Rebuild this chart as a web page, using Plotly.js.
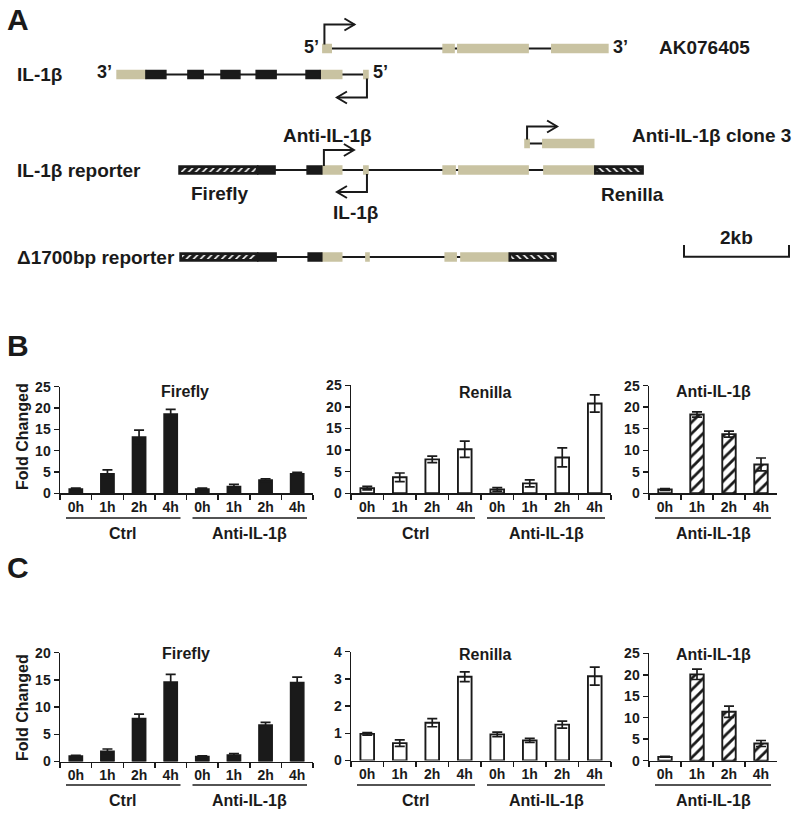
<!DOCTYPE html>
<html><head><meta charset="utf-8">
<script src="https://cdn.plot.ly/plotly-3.0.1.min.js"></script>
<style>body{margin:0;padding:0;background:#fff}#chart{width:795px;height:814px}</style>
</head><body><div id="chart"></div>
<script>
// ================= DATA =================
const timeLabels = ['0h', '1h', '2h', '4h'];
const groupsTwo = ['Ctrl', 'Anti-IL-1β'];
const groupsOne = ['Anti-IL-1β'];
const panelTitles = ['Firefly', 'Renilla', 'Anti-IL-1β'];

// Panel B
const bFireflyMean = [1.0, 4.6, 13.2, 18.6, 1.0, 1.6, 3.1, 4.6];
const bFireflyErr  = [0.2, 0.9, 1.6, 1.1, 0.2, 0.5, 0.3, 0.3];
const bRenillaMean = [1.2, 3.7, 7.85, 10.2, 0.9, 2.3, 8.3, 20.8];
const bRenillaErr  = [0.4, 1.0, 0.75, 1.9, 0.4, 0.8, 2.2, 2.0];
const bAntiMean    = [0.9, 18.3, 13.75, 6.7];
const bAntiErr     = [0.2, 0.6, 0.7, 1.5];

// Panel C
const cFireflyMean = [1.0, 1.9, 7.9, 14.6, 0.9, 1.2, 6.7, 14.5];
const cFireflyErr  = [0.15, 0.4, 0.8, 1.4, 0.15, 0.25, 0.5, 1.0];
const cRenillaMean = [0.98, 0.64, 1.39, 3.08, 0.96, 0.74, 1.32, 3.1];
const cRenillaErr  = [0.05, 0.12, 0.15, 0.18, 0.08, 0.07, 0.13, 0.33];
const cAntiMean    = [0.9, 20.1, 11.4, 4.0];
const cAntiErr     = [0.1, 1.2, 1.3, 0.7];

// Panel A gene diagrams (positions in kb, [start, end])
const akSpan   = [2.74, 8.17];
const akTan    = [[2.74, 2.90], [5.03, 5.24], [5.31, 6.65], [7.10, 8.17]];
const ilSpan   = [-1.18, 3.56];
const ilTan    = [[-1.18, -0.63], [2.69, 3.10], [3.52, 3.60]];
const ilBlack  = [[-0.63, -0.25], [0.17, 0.46], [0.80, 1.16], [1.47, 1.85], [2.42, 2.69]];
const c3Span   = [6.59, 6.93];
const c3Tan    = [[6.59, 6.67], [6.93, 7.90]];
const repSpan  = [0.00, 8.84];
const repFirefly = [[0.00, 1.50]];
const repBlack = [[1.50, 1.83], [2.44, 2.72]];
const repTan   = [[2.72, 3.10], [3.52, 3.60], [5.03, 5.26], [5.33, 6.65], [6.95, 7.92]];
const repRenilla = [[7.92, 8.84]];
const delSpan  = [0.02, 7.18];
const delFirefly = [[0.02, 1.50]];
const delBlack = [[1.50, 1.85], [2.46, 2.72]];
const delTan   = [[2.72, 3.10], [3.56, 3.62], [5.07, 5.28], [5.37, 6.29]];
const delRenilla = [[6.29, 7.18]];
// promoters: position (kb), row, direction (+1 right, -1 left)
const tssPos = [2.77, 3.58, 2.76, 3.58, 6.63];
const tssRow = ['ak', 'il', 'rep', 'rep', 'c3'];
const tssDir = [1, -1, 1, -1, 1];
const scaleKb = 2;

// ================= STYLE / LAYOUT =================
const W = 795, H = 814;
const FONT = 'Liberation Sans, Arial, sans-serif';
const INK = '#1a1a1a', TAN = '#c9c3a2';
const px = x => x / W, py = y => 1 - y / H;
const rowY = {ak: 48.5, il: 74.5, c3: 143.5, rep: 170, del: 257};
const stemPx = [24, 23, 20, 22, 17];
const kbPerPx = 1 / 52.5, kbOrigin = 179;
const exonH = 8;

const traces = [];
const annotations = [];
const shapes = [];
const layout = {
  width: W, height: H, margin: {l: 0, r: 0, t: 0, b: 0},
  paper_bgcolor: 'white', plot_bgcolor: 'rgba(0,0,0,0)',
  showlegend: false, barmode: 'overlay',
  font: {family: FONT, color: INK, weight: 'bold'}
};

function ann(text, x, y, size, extra) {
  annotations.push(Object.assign({text: text, x: px(x), y: py(y), xref: 'paper', yref: 'paper',
    showarrow: false, xanchor: 'center', yanchor: 'middle',
    font: {family: FONT, size: size, color: INK, weight: 'bold'}}, extra || {}));
}

// ---------- bar panels ----------
function barPanel(n, mean, err, groups, kind, left, right, top, bottom, yMax, dtick, title, titleX, titleY, groupY, yTitleY) {
  const cats = [];
  groups.forEach((g, gi) => timeLabels.forEach(t => cats.push(t + '\u200b'.repeat(gi))));
  let marker;
  if (kind === 'solid') marker = {color: INK, line: {color: INK, width: 1.5}};
  else if (kind === 'open') marker = {color: 'white', line: {color: INK, width: 1.9}};
  else marker = {color: 'white', line: {color: INK, width: 1.9},
    pattern: {shape: mean.map((v, i) => i === 0 ? '' : '/'), fgcolor: INK, bgcolor: 'white', size: 8, solidity: 0.35}};
  traces.push({type: 'bar', x: cats, y: mean, width: 0.42, xaxis: 'x' + n, yaxis: 'y' + n, marker: marker,
    error_y: {type: 'data', array: err, visible: true, color: INK, thickness: 1.7, width: 5}});
  layout['xaxis' + n] = {domain: [px(left), px(right)], anchor: 'y' + n, type: 'category', range: [-0.5, cats.length - 0.5],
    tickson: 'boundaries', ticks: 'outside', ticklen: 5, tickwidth: 1.5, tickcolor: INK,
    showline: true, linecolor: INK, linewidth: 1.5, showgrid: false, zeroline: false,
    tickfont: {family: FONT, size: 14, color: INK, weight: 'bold'}, fixedrange: true};
  layout['yaxis' + n] = {domain: [py(bottom), py(top)], anchor: 'x' + n, range: [0, yMax], dtick: dtick,
    ticks: 'outside', ticklen: 5, tickwidth: 1.5, tickcolor: INK,
    showline: true, linecolor: INK, linewidth: 1.5, showgrid: false, zeroline: false,
    tickfont: {family: FONT, size: 14, color: INK, weight: 'bold'}, fixedrange: true};
  ann(title, titleX, titleY, 16);
  const step = (right - left) / cats.length;
  groups.forEach((g, gi) => {
    const gl = left + gi * 4 * step, gr = gl + 4 * step;
    shapes.push({type: 'line', xref: 'paper', yref: 'paper', x0: px(gl + 6), x1: px(gr - 6),
      y0: py(groupY - 15), y1: py(groupY - 15), line: {color: INK, width: 1.5}});
    ann(g, (gl + gr) / 2, groupY, 16);
  });
  if (yTitleY) ann('Fold Changed', 22, yTitleY, 16, {textangle: -90});
}

barPanel(1, bFireflyMean, bFireflyErr, groupsTwo, 'solid', 60, 313, 386.7, 493.3, 25, 5, panelTitles[0], 185, 391, 533, 437);
barPanel(2, bRenillaMean, bRenillaErr, groupsTwo, 'open', 351, 611, 385.3, 493.3, 25, 5, panelTitles[1], 485, 392, 533);
barPanel(3, bAntiMean, bAntiErr, groupsOne, 'hatch', 649, 777, 385.7, 493.3, 25, 5, panelTitles[2], 713, 391, 533);
barPanel(4, cFireflyMean, cFireflyErr, groupsTwo, 'solid', 60, 313, 652.7, 761.5, 20, 5, panelTitles[0], 186, 653, 800, 708);
barPanel(5, cRenillaMean, cRenillaErr, groupsTwo, 'open', 351, 611, 651.7, 760.5, 4, 1, panelTitles[1], 485, 654, 800);
barPanel(6, cAntiMean, cAntiErr, groupsOne, 'hatch', 649, 777, 653.3, 760.7, 25, 5, panelTitles[2], 713, 654, 800);

// ---------- panel A diagram ----------
layout.xaxis7 = {domain: [0, 1], anchor: 'y7', range: [(0 - kbOrigin) * kbPerPx, (W - kbOrigin) * kbPerPx], visible: false, fixedrange: true};
layout.yaxis7 = {domain: [0, 1], anchor: 'x7', range: [H, 0], visible: false, fixedrange: true};

function segTrace(list, color, height, pattern, lineW, inset) {
  const x = [], base = [], y = [];
  const d = inset || 0;
  list.forEach(([segs, r]) => segs.forEach(s => { base.push(s[0] + d); x.push(s[1] - s[0] - 2 * d); y.push(rowY[r]); }));
  const m = {color: color, line: {color: color, width: lineW}};
  if (pattern) m.pattern = {shape: pattern, fgcolor: 'white', bgcolor: INK, size: 5, solidity: 0.3};
  traces.push({type: 'bar', orientation: 'h', x: x, base: base, y: y, width: height, xaxis: 'x7', yaxis: 'y7', marker: m, hoverinfo: 'skip'});
}
// backbones (drawn first, beneath exons)
segTrace([[[akSpan], 'ak'], [[ilSpan], 'il'], [[c3Span], 'c3'], [[repSpan], 'rep'], [[delSpan], 'del']], INK, 2, null, 0);
segTrace([[akTan, 'ak'], [ilTan, 'il'], [c3Tan, 'c3'], [repTan, 'rep'], [delTan, 'del']], TAN, exonH, null, 1.5);
segTrace([[ilBlack, 'il'], [repBlack, 'rep'], [delBlack, 'del']], INK, exonH, null, 1.5);
// luciferase boxes: black body with a hatched inner band
segTrace([[repFirefly, 'rep'], [delFirefly, 'del'], [repRenilla, 'rep'], [delRenilla, 'del']], INK, exonH, null, 1.5);
segTrace([[repFirefly, 'rep'], [delFirefly, 'del']], INK, 4, '/', 0, 2 * kbPerPx);
segTrace([[repRenilla, 'rep'], [delRenilla, 'del']], INK, 4, '\\', 0, 2 * kbPerPx);

// promoter arrows + scale bar
(function () {
  const xs = [], ys = [];
  const armKb = 30 * kbPerPx, headKb = 10 * kbPerPx, headPx = 6;
  tssPos.forEach((p, i) => {
    const y0 = rowY[tssRow[i]];
    const up = tssDir[i] > 0 ? -1 : 1;
    const y1 = y0 + up * stemPx[i];
    const tip = p + tssDir[i] * armKb;
    xs.push(p, p, tip, null); ys.push(y0 + up * 4, y1, y1, null);
    xs.push(tip - tssDir[i] * headKb, tip, tip - tssDir[i] * headKb, null);
    ys.push(y1 - headPx, y1, y1 + headPx, null);
  });
  const sx = (684 - kbOrigin) * kbPerPx;
  xs.push(sx, sx, sx + scaleKb, sx + scaleKb, null); ys.push(245, 256.7, 256.7, 245, null);
  traces.push({type: 'scatter', mode: 'lines', x: xs, y: ys, xaxis: 'x7', yaxis: 'y7', line: {color: INK, width: 2}, hoverinfo: 'skip'});
})();

// panel A texts
ann('A', 18, 20, 30);
ann('B', 18, 345, 30);
ann('C', 18, 567, 30);
ann("5’", 311, 47, 18);
ann("3’", 620, 47, 18);
ann('AK076405', 657, 47, 19, {xanchor: 'left'});
ann('IL-1β', 15, 74, 19, {xanchor: 'left'});
ann("3’", 104, 72, 18);
ann("5’", 380, 72, 18);
ann('Anti-IL-1β', 327.5, 135, 19);
ann('Anti-IL-1β clone 3', 630, 135, 19, {xanchor: 'left'});
ann('IL-1β reporter', 15, 170, 19, {xanchor: 'left'});
ann('Firefly', 219, 193, 19);
ann('IL-1β', 355, 213, 19);
ann('Renilla', 632, 194, 19);
ann(scaleKb + 'kb', 736, 237, 19);
ann('Δ1700bp reporter', 15, 257, 19, {xanchor: 'left'});

layout.annotations = annotations;
layout.shapes = shapes;
Plotly.newPlot('chart', traces, layout, {staticPlot: true, displayModeBar: false});
</script>
</body></html>
